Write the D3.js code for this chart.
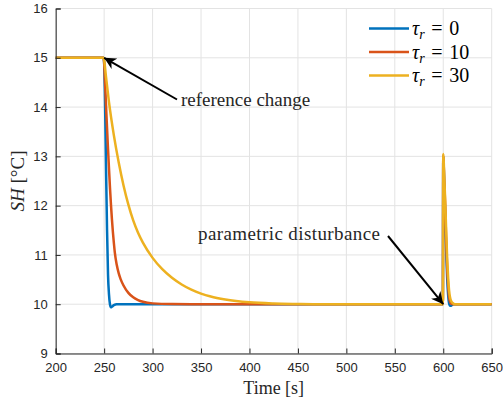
<!DOCTYPE html>
<html><head><meta charset="utf-8">
<script src="https://cdn.jsdelivr.net/npm/d3@7"></script>
<style>body{margin:0;background:#fff}svg{display:block}</style>
</head><body>
<script>
// ---- data ----
const xTicks = [200,250,300,350,400,450,500,550,600,650];
const yTicks = [9,10,11,12,13,14,15,16];
const seriesNames = ["τr = 0","τr = 10","τr = 30"];
const tBlue = [200,249.5,250,251,252,253,254,255,256,257,258,260,263,599.6,600,600.5,601,602,603,604,605,606,607,608,610,650];
const vBlue = [15,15,14.9,14.0,12.7,11.5,10.6,10.2,10.0,9.94,9.95,9.98,10,10,13.0,12.8,12.4,11.8,11.1,10.55,10.2,10.02,9.97,9.97,10,10];
const tRed = [200,249.3,250,251,252,253,254,255,256,257,258,259,260,261,263,265,267,270,275,280,285,290,300,320,340,599.6,600,601,602,603,604,605,606,607,608,610,650];
const vRed = [15,15,14.9,14.45,14.0,13.57,13.15,12.75,12.37,12.03,11.73,11.47,11.25,11.05,10.8,10.63,10.51,10.38,10.23,10.14,10.085,10.05,10.017,10.002,10,10,13.02,12.5,12.0,11.3,10.75,10.4,10.15,10.05,10.01,10,10];
const tYel = [200,249.5,250,252,255,260,265,270,275,280,285,290,300,310,320,330,340,350,360,375,400,425,450,475,599.6,600,600.5,601,602,603,604,605,606,607,608,610,612,650];
const vYel = [15,15,14.95,14.6,14.1,13.43,12.88,12.41,12.02,11.70,11.45,11.25,10.94,10.71,10.535,10.40,10.295,10.215,10.155,10.095,10.038,10.014,10.005,10,10,13.05,12.9,12.6,12.1,11.5,10.95,10.55,10.28,10.14,10.07,10.02,10,10];
const colors = ["#0072BD","#D95319","#EDB120"];

const W=503,H=401;
const L=55.7,R=491.7,T=8.5,B=353.5;
const svg=d3.select("body").append("svg").attr("width",W).attr("height",H);
const x=d3.scaleLinear().domain([200,650]).range([L,R]);
const y=d3.scaleLinear().domain([9,16]).range([B,T]);
const axisCol="#262626", gridCol="#e3e3e3";
const sans="'Liberation Sans', Arial, sans-serif", serif="'Liberation Serif','DejaVu Serif',serif";

// grid
svg.append("g").selectAll("line").data(xTicks).join("line")
  .attr("x1",d=>x(d)).attr("x2",d=>x(d)).attr("y1",T).attr("y2",B)
  .attr("stroke",gridCol).attr("stroke-width",1);
svg.append("g").selectAll("line").data(yTicks).join("line")
  .attr("x1",L).attr("x2",R).attr("y1",d=>y(d)).attr("y2",d=>y(d))
  .attr("stroke",gridCol).attr("stroke-width",1);

// lines
const line=d3.line().x(d=>x(d[0])).y(d=>y(d[1])).curve(d3.curveMonotoneX);
const series=[d3.zip(tBlue,vBlue),d3.zip(tRed,vRed),d3.zip(tYel,vYel)];
series.forEach((s,i)=>{
  svg.append("path").datum(s).attr("d",line).attr("fill","none")
    .attr("stroke",colors[i]).attr("stroke-width",2.5).attr("stroke-linejoin","round");
});

// axes
const xa=svg.append("g").attr("transform",`translate(0,${B})`)
  .call(d3.axisBottom(x).tickValues(xTicks).tickSize(-5).tickPadding(9).tickFormat(d3.format("d")));
const ya=svg.append("g").attr("transform",`translate(${L},0)`)
  .call(d3.axisLeft(y).tickValues(yTicks).tickSize(-5).tickPadding(8).tickFormat(d3.format("d")));
[xa,ya].forEach(a=>{
  a.select(".domain").attr("stroke",axisCol).attr("stroke-width",1);
  a.selectAll(".tick line").attr("stroke",axisCol);
  a.selectAll(".tick text").attr("fill",axisCol).style("font-family",sans).style("font-size","13px");
});

// axis labels
svg.append("text").attr("x",(L+R)/2).attr("y",394).attr("text-anchor","middle")
  .style("font-family",serif).style("font-size","18px").attr("fill",axisCol).text("Time [s]");
const yl=svg.append("text").attr("transform",`translate(24,${(T+B)/2}) rotate(-90)`).attr("text-anchor","middle")
  .style("font-family",serif).style("font-size","19px").attr("fill",axisCol);
yl.append("tspan").style("font-style","italic").text("SH");
yl.append("tspan").text(" [°C]");

// legend
const lg=svg.append("g");
seriesNames.forEach((n,i)=>{
  const ly=28.5+i*23.5;
  lg.append("line").attr("x1",369).attr("x2",409).attr("y1",ly).attr("y2",ly)
    .attr("stroke",colors[i]).attr("stroke-width",2.5);
  const t=lg.append("text").attr("x",412).attr("y",ly+6.5).style("font-family",serif)
    .style("font-size","20px").attr("fill","#000");
  t.append("tspan").style("font-style","italic").text(n.slice(0,1));
  t.append("tspan").style("font-style","italic").style("font-size","14px").attr("dy",4).text(n.slice(1,2));
  t.append("tspan").attr("dy",-4).text("\u2004=\u2004"+n.slice(5));
});

// annotations
svg.append("defs").append("marker").attr("id","ah").attr("viewBox","0 0 10 10")
  .attr("refX",10).attr("refY",5).attr("markerWidth",12).attr("markerHeight",12)
  .attr("markerUnits","userSpaceOnUse").attr("orient","auto")
  .append("path").attr("d","M0,0 L10,5 L0,10 L3,5 Z").attr("fill","#000");
svg.append("line").attr("x1",177).attr("y1",99.5).attr("x2",x(250)).attr("y2",y(15))
  .attr("stroke","#000").attr("stroke-width",2).attr("marker-end","url(#ah)");
svg.append("text").attr("x",181).attr("y",106).style("font-family",serif).style("font-size","19px")
  .attr("fill","#262626").text("reference change");
svg.append("line").attr("x1",388).attr("y1",236).attr("x2",x(600)).attr("y2",y(10))
  .attr("stroke","#000").attr("stroke-width",2).attr("marker-end","url(#ah)");
svg.append("text").attr("x",198).attr("y",240).style("font-family",serif).style("font-size","19px")
  .style("letter-spacing","0.4px").attr("fill","#262626").text("parametric disturbance");
</script>
</body></html>
